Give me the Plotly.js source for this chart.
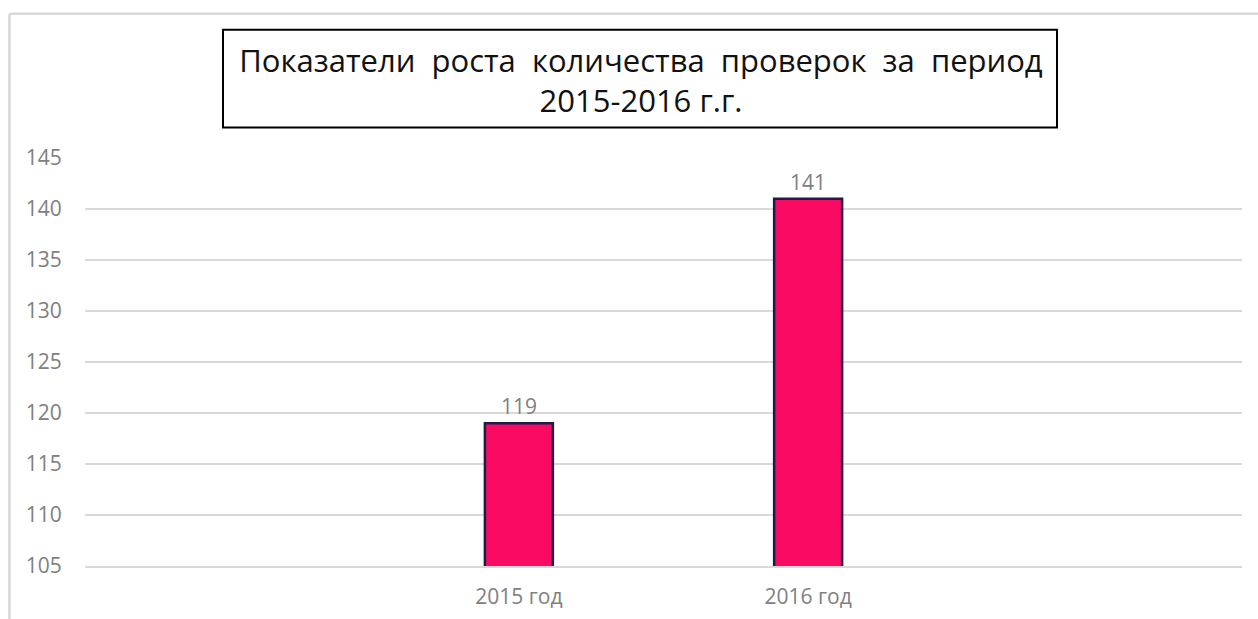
<!DOCTYPE html>
<html>
<head>
<meta charset="utf-8">
<script src="https://cdn.plot.ly/plotly-3.0.1.min.js"></script>
<style>
  html, body { margin: 0; padding: 0; background: #ffffff; }
  #chart { width: 1258px; height: 619px; }
</style>
</head>
<body>
<div id="chart"></div>
<script>
// ---- data ----
const categories = ['2015 год', '2016 год'];
const checks = [119, 141];
const yTickValues = [105, 110, 115, 120, 125, 130, 135, 140, 145];
const titleLines = ['Показатели&nbsp; роста&nbsp; количества&nbsp; проверок&nbsp; за&nbsp; период', '2015-2016 г.г.'];

const grayText = '#808080';
const baseFont = 'Open Sans, Liberation Sans, sans-serif';

const trace = {
  type: 'bar',
  x: categories,
  y: checks,
  width: 0.235,
  marker: {
    color: '#fb0a64',
    line: { color: '#1a1d48', width: 2.5 }
  },
  hoverinfo: 'x+y'
};

const annotations = categories.map((c, i) => ({
  x: c,
  y: checks[i],
  xref: 'x',
  yref: 'y',
  text: String(checks[i]),
  showarrow: false,
  yanchor: 'bottom',
  yshift: 1,
  font: { family: baseFont, size: 21, color: grayText }
}));

const layout = {
  width: 1258,
  height: 619,
  paper_bgcolor: '#ffffff',
  plot_bgcolor: '#ffffff',
  margin: { l: 85, r: 16, t: 158, b: 53, pad: 0 },
  showlegend: false,
  title: {
    text: titleLines.join('<br>'),
    x: 641 / 1258,
    xanchor: 'center',
    xref: 'container',
    y: 1 - 71.5 / 619,
    yref: 'container',
    yanchor: 'middle',
    font: { family: baseFont, size: 31, color: '#111111' }
  },
  xaxis: {
    type: 'category',
    range: [-1.5, 2.5],
    showgrid: false,
    zeroline: false,
    showline: true,
    linecolor: '#d9d9d9',
    linewidth: 1.5,
    ticks: 'outside',
    ticklen: 11,
    tickcolor: 'rgba(0,0,0,0)',
    tickfont: { family: baseFont, size: 21, color: grayText },
    fixedrange: true
  },
  yaxis: {
    range: [105, 145],
    tickvals: yTickValues,
    ticktext: yTickValues.map(String),
    showgrid: true,
    gridcolor: '#d9d9d9',
    gridwidth: 1.5,
    zeroline: false,
    showline: false,
    ticks: 'outside',
    ticklen: 18,
    tickcolor: 'rgba(0,0,0,0)',
    tickfont: { family: baseFont, size: 21, color: grayText },
    fixedrange: true
  },
  annotations: annotations,
  shapes: [
    // chart frame (left and top light border)
    { type: 'line', xref: 'paper', yref: 'paper',
      x0: -0.0653, x1: -0.0653, y0: -0.3, y1: 1.3533,
      line: { color: '#d9d9d9', width: 2.5 } },
    { type: 'line', xref: 'paper', yref: 'paper',
      x0: -0.0653, x1: 1.05, y0: 1.3533, y1: 1.3533,
      line: { color: '#d9d9d9', width: 2.5 } },
    // title box
    { type: 'rect', xref: 'paper', yref: 'paper',
      x0: (223 - 85) / 1157, x1: (1057 - 85) / 1157,
      y0: (566.5 - 127) / 409, y1: (566.5 - 29) / 409,
      line: { color: '#000000', width: 2 }, fillcolor: 'rgba(0,0,0,0)' }
  ]
};

Plotly.newPlot('chart', [trace], layout, { displayModeBar: false, staticPlot: true });
</script>
</body>
</html>
